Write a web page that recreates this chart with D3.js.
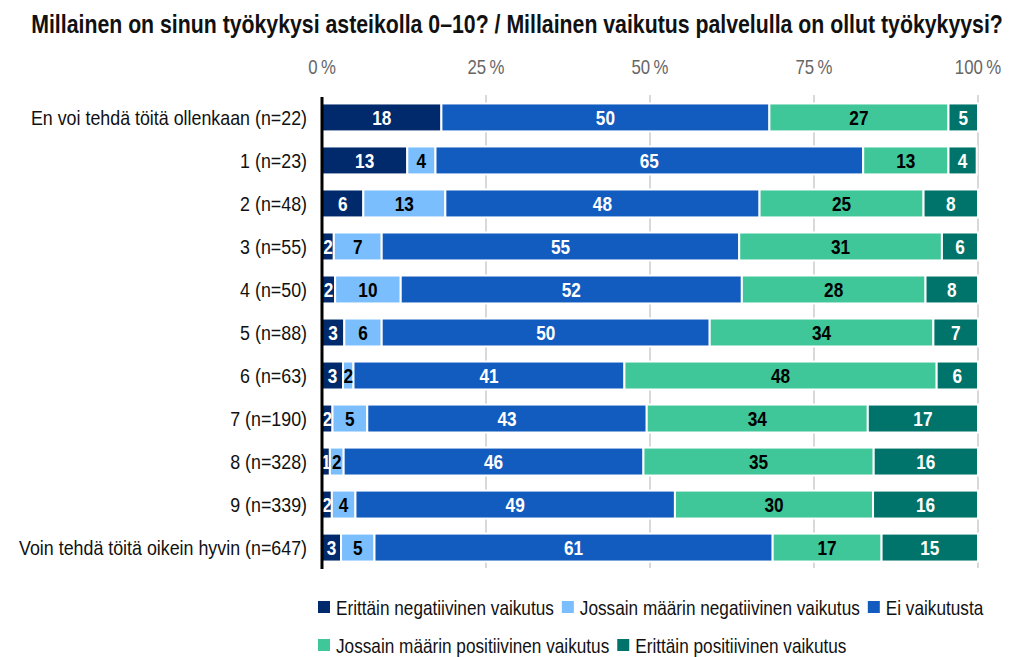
<html>
  <head>
    <style>
      body { margin: 0; background: #fff; }
      text { font-family: "Liberation Sans", "DejaVu Sans", sans-serif; }
    </style>
  </head>
  <body>
    <div id="chart"><svg></svg></div>
    <script src="https://d3js.org/d3.v7.min.js"></script>
    <script>
      // data (percent of respondents in each row)
      var categories = ["En voi tehdä töitä ollenkaan (n=22)", "1 (n=23)", "2 (n=48)", "3 (n=55)", "4 (n=50)",
        "5 (n=88)", "6 (n=63)", "7 (n=190)", "8 (n=328)", "9 (n=339)", "Voin tehdä töitä oikein hyvin (n=647)"];
      var seriesNames = ["Erittäin negatiivinen vaikutus", "Jossain määrin negatiivinen vaikutus", "Ei vaikutusta",
        "Jossain määrin positiivinen vaikutus", "Erittäin positiivinen vaikutus"];
      var veryNegative = [18.2, 13.0, 6.3, 1.8, 2, 3.4, 3.2, 1.6, 1.2, 1.5, 2.9];
      var someNegative = [0, 4.3, 12.5, 7.3, 10, 5.7, 1.6, 5.3, 2.1, 3.6, 5.1];
      var noEffect = [50, 65.2, 47.9, 54.5, 52, 50, 41.3, 42.6, 45.7, 48.7, 60.7];
      var somePositive = [27.3, 13.0, 25, 30.9, 28, 34.1, 47.6, 33.7, 35.1, 30.2, 16.6];
      var veryPositive = [4.5, 4.3, 8.3, 5.5, 8, 6.8, 6.3, 16.8, 15.9, 16.0, 14.7];
      var tickValues = [0, 25, 50, 75, 100];
      var title = "Millainen on sinun työkykysi asteikolla 0–10? / Millainen vaikutus palvelulla on ollut työkykyysi?";

      var colors = ["#002a6c", "#7bbefe", "#125bbf", "#3fc699", "#00746a"];
      var labelColors = ["#fff", "#000", "#fff", "#000", "#fff"];

      var width = 1010, height = 657;
      var margin = { left: 322, right: 32, top: 97, bottom: 89 };

      var svg = d3.select("#chart svg").attr("width", width).attr("height", height);

      // no condensed font installed, so squeeze text sideways
      function place(sel, fx, fy, sx) {
        sel.attr("transform", function(d, i) {
          return "translate(" + fx(d, i) + "," + fy(d, i) + ") scale(" + sx + ",1)";
        });
      }

      var rows = categories.map(function(c, i) {
        return { cat: c, values: [veryNegative[i], someNegative[i], noEffect[i], somePositive[i], veryPositive[i]] };
      });

      var x = d3.scaleLinear().domain([0, 100]).range([margin.left, width - margin.right]);
      var y = d3.scaleBand().domain(categories).range([margin.top, height - margin.bottom]).paddingInner(0.35).paddingOuter(0.15);

      // title, squeezed to fit the width
      var titleText = svg.append("text")
        .attr("text-anchor", "middle")
        .attr("font-size", 25).attr("font-weight", "bold")
        .attr("fill", "#111")
        .text(title);
      var titleScale = 972 / titleText.node().getComputedTextLength();
      titleText.attr("transform", "translate(517,33) scale(" + titleScale + ",1)");

      // grid
      svg.append("g").selectAll("line").data(tickValues.slice(1)).enter().append("line")
        .attr("x1", function(d) { return x(d); }).attr("x2", function(d) { return x(d); })
        .attr("y1", margin.top - 2).attr("y2", height - margin.bottom)
        .attr("stroke", "#d9d9d9").attr("stroke-width", 2);

      // top axis labels
      svg.append("g").selectAll("text").data(tickValues).enter().append("text")
        .attr("text-anchor", "middle")
        .attr("font-size", 20).attr("fill", "#666")
        .text(function(d) { return d + "\u2009%"; })
        .call(place, function(d) { return x(d); }, function() { return 74; }, 0.84);

      // bars
      var rowG = svg.append("g").selectAll("g").data(rows).enter().append("g")
        .attr("transform", function(d) { return "translate(0," + y(d.cat) + ")"; });

      rowG.each(function(r) {
        var g = d3.select(this);
        var acc = 0;
        var segs = r.values.map(function(v, k) {
          var s = { k: k, v: v, x0: acc, x1: acc + v };
          acc += v;
          return s;
        }).filter(function(s) { return s.v > 0; });

        g.selectAll("rect").data(segs).enter().append("rect")
          .attr("x", function(s) { return x(s.x0); })
          .attr("width", function(s) { return x(s.x1) - x(s.x0); })
          .attr("y", 0).attr("height", y.bandwidth())
          .attr("fill", function(s) { return colors[s.k]; })
          .attr("stroke", "#fff").attr("stroke-width", 2);

        g.selectAll("text").data(segs).enter().append("text")
          .attr("text-anchor", "middle")
          .attr("font-size", 21).attr("font-weight", "bold")
          .attr("fill", function(s) { return labelColors[s.k]; })
          .text(function(s) { return Math.round(s.v); })
          .call(place, function(s) { return (x(s.x0) + x(s.x1)) / 2; }, function() { return y.bandwidth() / 2 + 7.5; }, 0.82);
      });

      // category labels
      svg.append("g").selectAll("text").data(categories).enter().append("text")
        .attr("text-anchor", "end")
        .attr("font-size", 21).attr("fill", "#111")
        .text(function(d) { return d; })
        .call(place, function() { return 307; }, function(d) { return y(d) + y.bandwidth() / 2 + 7.5; }, 0.85);

      // zero line
      svg.append("line")
        .attr("x1", x(0)).attr("x2", x(0))
        .attr("y1", margin.top).attr("y2", height - margin.bottom + 1)
        .attr("stroke", "#000").attr("stroke-width", 3);

      // legend, wrapping
      var legend = svg.append("g");
      var lx = 318, ly = 607, maxX = 1000, sx = 0.86;
      seriesNames.forEach(function(name, k) {
        var item = legend.append("g");
        item.append("rect").attr("x", 0).attr("y", -6).attr("width", 12).attr("height", 12).attr("fill", colors[k]);
        var t = item.append("text").attr("font-size", 20).attr("fill", "#111").text(name)
          .attr("transform", "translate(18,7.5) scale(" + sx + ",1)");
        var w = 18 + t.node().getComputedTextLength() * sx;
        if (lx + w > maxX) { lx = 318; ly += 38; }
        item.attr("transform", "translate(" + lx + "," + ly + ")");
        lx += w + 8;
      });
    </script>
  </body>
</html>
